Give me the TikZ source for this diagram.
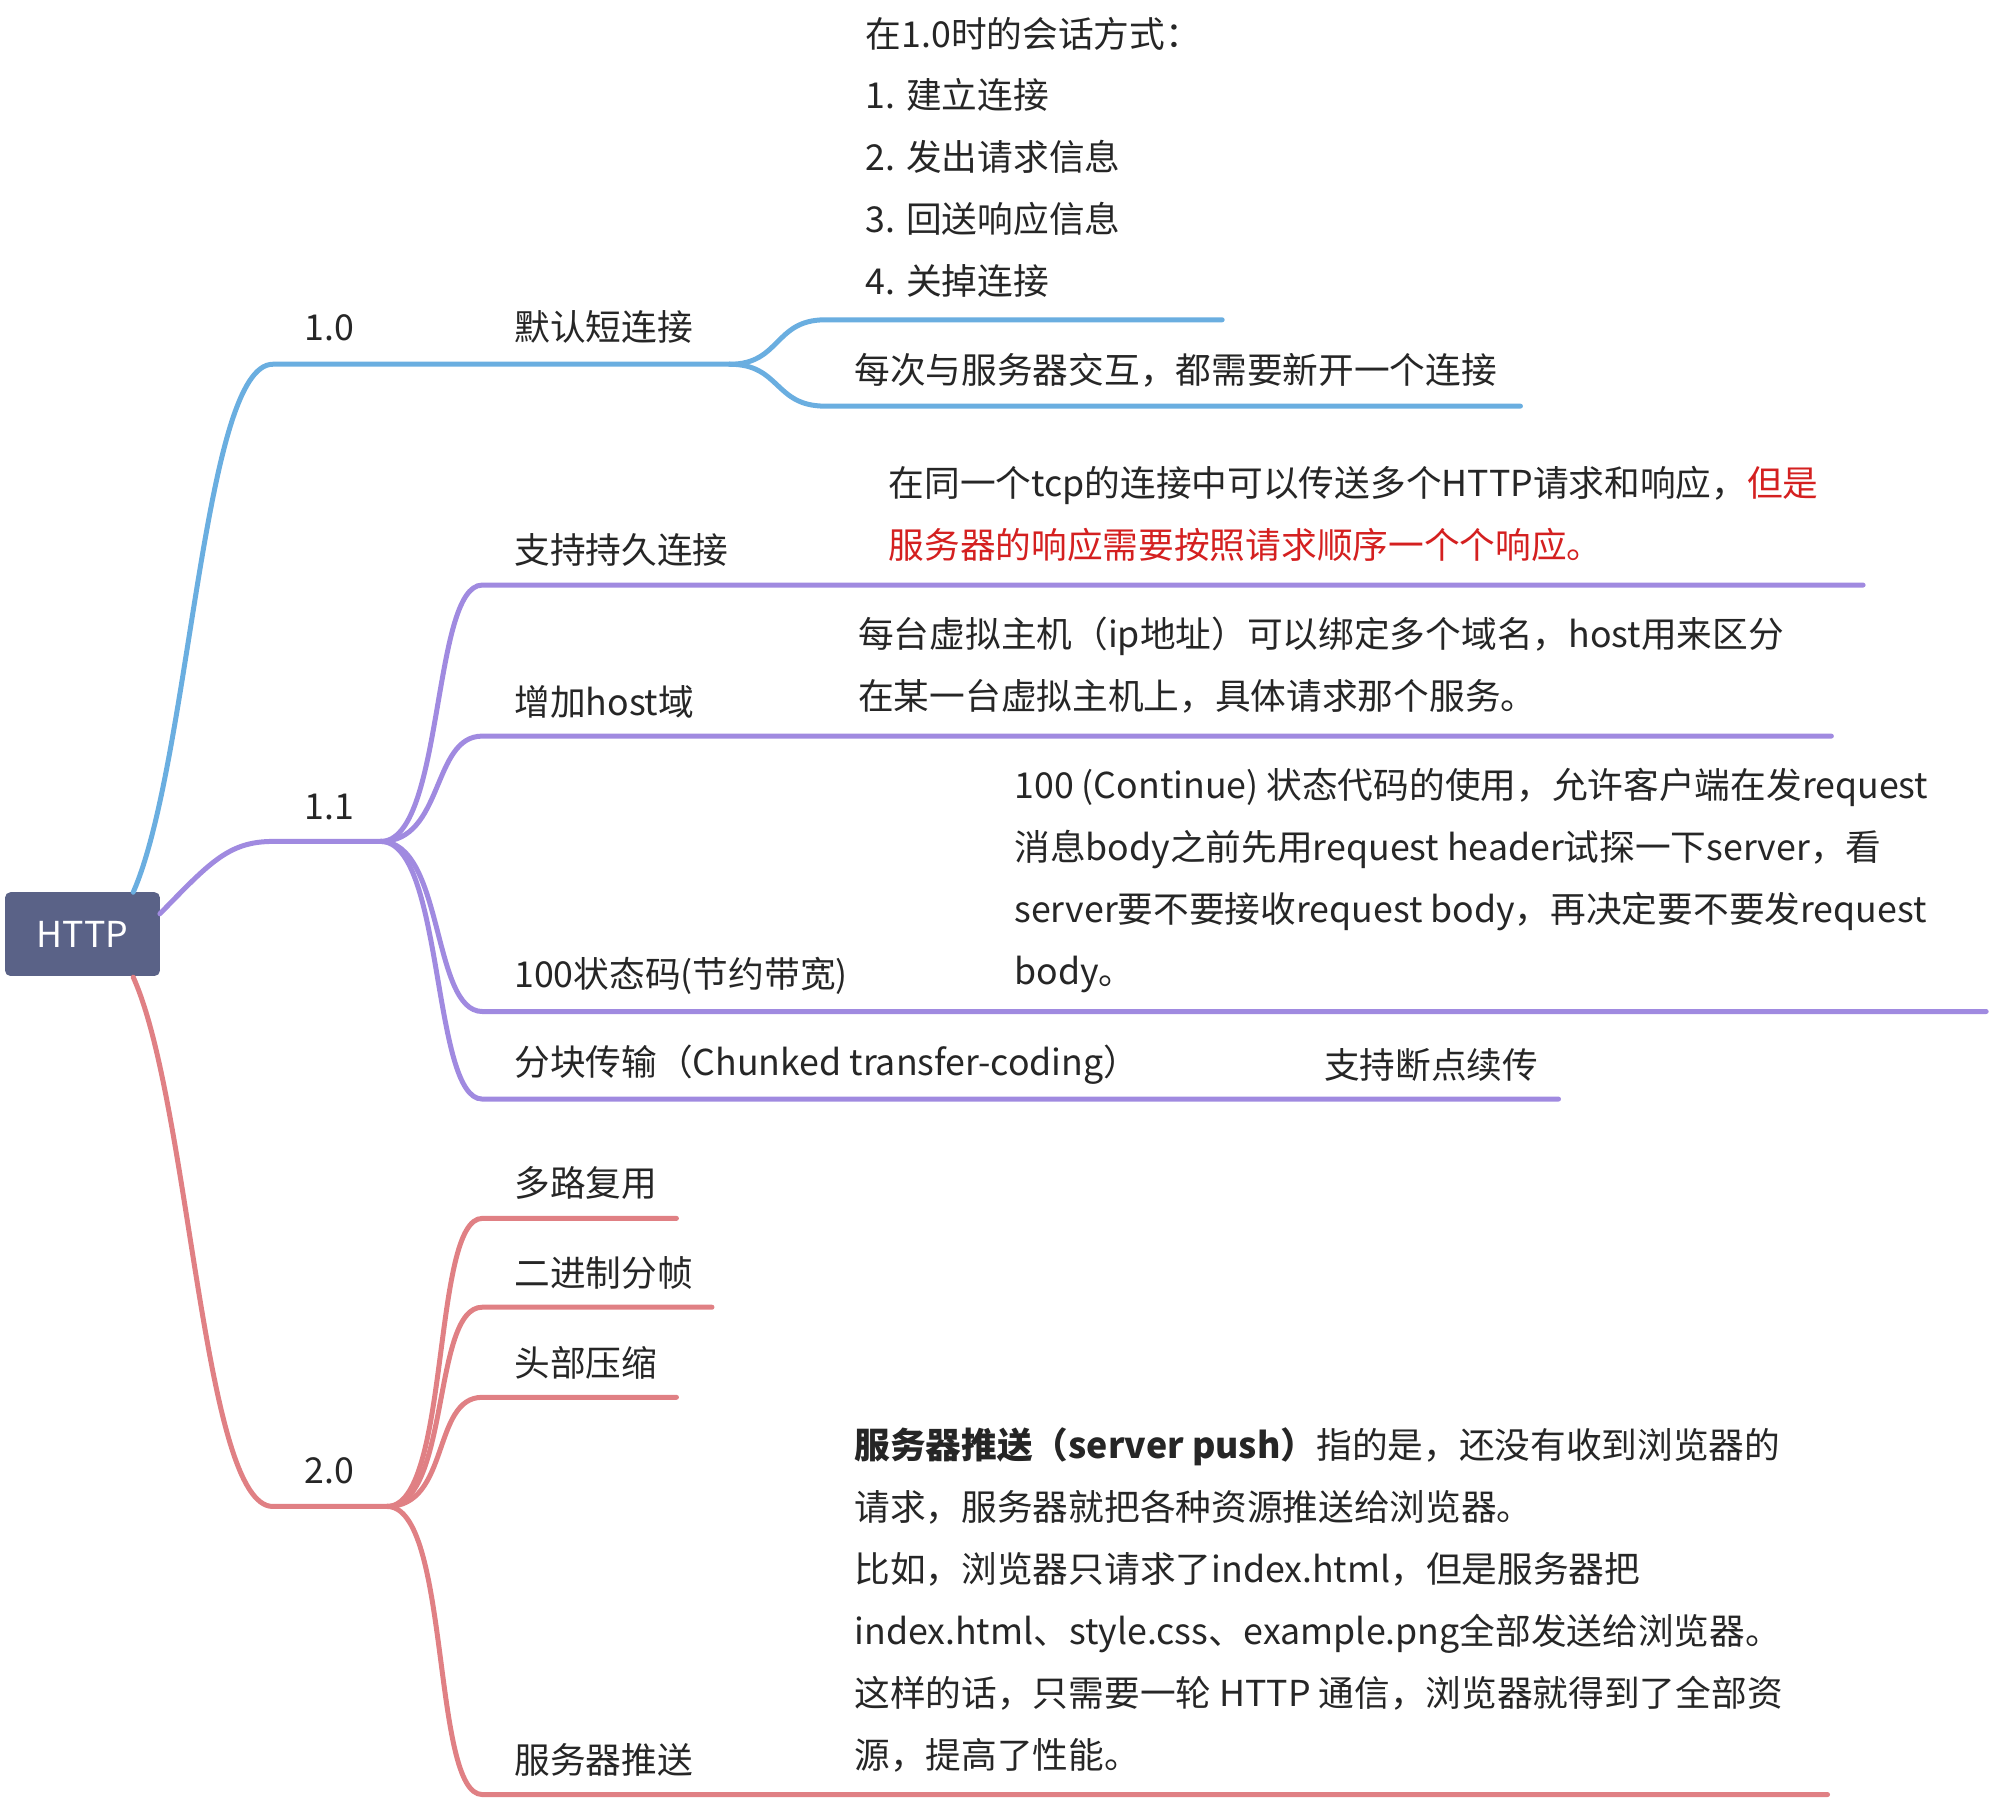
\documentclass[tikz,border=0pt]{standalone}
\usepackage{fontspec}
\setmainfont{Noto Sans CJK SC}
\usetikzlibrary{positioning}
\definecolor{vone}{HTML}{6AAEE0}
\definecolor{vtwo}{HTML}{A08AE0}
\definecolor{vthree}{HTML}{E08084}
\definecolor{rootfill}{HTML}{5A6287}
\definecolor{hotred}{HTML}{D42020}
\tikzset{
  txt/.style={anchor=west, inner sep=0pt, font=\fontsize{20}{34.7}\selectfont, text=black!85},
  para/.style={anchor=north west, align=left, inner sep=0pt, font=\fontsize{20}{34.7}\selectfont, text=black!85},
  branch/.style={line width=2.8pt, line cap=round},
}
\begin{document}
\begin{tikzpicture}[x=0.025cm,y=-0.025cm]
\useasboundingbox (0,0) rectangle (1568,1420);

% root
\node[fill=rootfill, rounded corners=3pt, minimum width=3.05cm, minimum height=1.65cm,
  text=white, font=\fontsize{20}{24}\selectfont] (root) at (65,736) {HTTP};

% 1.0
\coordinate (r1) at (105,703);
\coordinate (v1a) at (215,287);
\coordinate (v1b) at (575,287);
\draw[branch, vone] (r1) .. controls (150,600) and (160,287) .. (v1a) -- (v1b);
\node[txt] (v1) at (240,258) {1.0};
\node[txt] (shortconn) at (405,258) {默认短连接};
\coordinate (s1a) at (650,252);
\coordinate (s1b) at (963,252);
\coordinate (s2a) at (650,320);
\coordinate (s2b) at (1198,320);
\draw[branch, vone] (v1b) .. controls (615,287) and (610,252) .. (s1a) -- (s1b);
\draw[branch, vone] (v1b) .. controls (615,287) and (610,320) .. (s2a) -- (s2b);
\node[para] (steps) at (682,13) {在1.0时的会话方式：\\1. 建立连接\\2. 发出请求信息\\3. 回送响应信息\\4. 关掉连接};
\node[txt] (eachtime) at (673,292) {每次与服务器交互，都需要新开一个连接};

% 1.1
\coordinate (r2) at (126,720);
\coordinate (v2a) at (215,663);
\coordinate (v2b) at (300,663);
\draw[branch, vtwo] (r2) .. controls (165,680) and (180,663) .. (v2a) -- (v2b);
\node[txt] (v2) at (240,636) {1.1};
\foreach \y/\xe in {461/1468, 580/1443, 797/1565, 866/1228}
  \draw[branch, vtwo] (v2b) .. controls (350,663) and (340,\y) .. (380,\y) -- (\xe,\y);
\node[txt] (keepalive) at (405,433) {支持持久连接};
\node[para] (keeptxt) at (700,367) {在同一个tcp的连接中可以传送多个HTTP请求和响应，\textcolor{hotred}{但是}\\\textcolor{hotred}{服务器的响应需要按照请求顺序一个个响应。}};
\node[txt] (hostdom) at (405,553) {增加host域};
\node[para] (hosttxt) at (676,486) {每台虚拟主机（ip地址）可以绑定多个域名，host用来区分\\在某一台虚拟主机上，具体请求那个服务。};
\node[txt] (code100) at (405,769) {100状态码(节约带宽)};
\node[para] (codetxt) at (799,605) {100 (Continue) 状态代码的使用，允许客户端在发request\\消息body之前先用request header试探一下server，看\\server要不要接收request body，再决定要不要发request\\body。};
\node[txt] (chunked) at (405,839) {分块传输（Chunked transfer-coding）};
\node[txt] (resume) at (1043,839) {支持断点续传};

% 2.0
\coordinate (r3) at (105,770);
\coordinate (v3a) at (215,1187);
\coordinate (v3b) at (305,1187);
\draw[branch, vthree] (r3) .. controls (150,870) and (160,1187) .. (v3a) -- (v3b);
\node[txt] (v3) at (240,1159) {2.0};
\foreach \y/\xe in {960/533, 1030/561, 1101/533, 1414/1440}
  \draw[branch, vthree] (v3b) .. controls (355,1187) and (340,\y) .. (380,\y) -- (\xe,\y);
\node[txt] (multiplex) at (405,932) {多路复用};
\node[txt] (binframe) at (405,1003) {二进制分帧};
\node[txt] (hdrzip) at (405,1074) {头部压缩};
\node[txt] (srvpush) at (405,1387) {服务器推送};
\node[para] (pushtxt) at (673,1125) {\textbf{服务器推送（server push）}指的是，还没有收到浏览器的\\请求，服务器就把各种资源推送给浏览器。\\比如，浏览器只请求了index.html，但是服务器把\\index.html、style.css、example.png全部发送给浏览器。\\这样的话，只需要一轮 HTTP 通信，浏览器就得到了全部资\\源，提高了性能。};
\end{tikzpicture}
\end{document}
